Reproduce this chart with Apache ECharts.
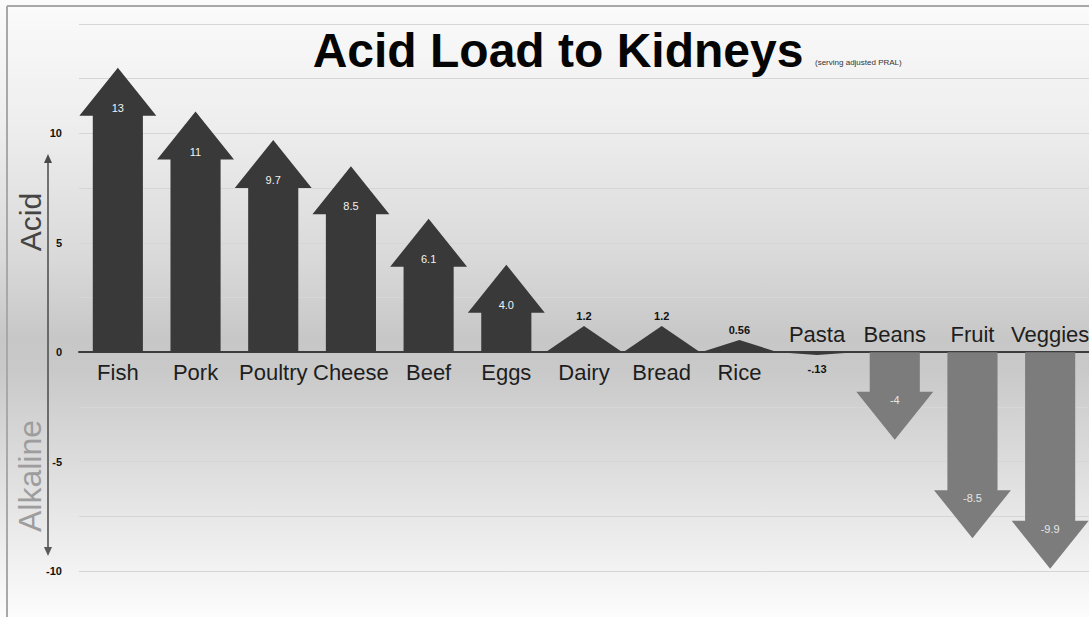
<!DOCTYPE html>
<html>
<head>
<meta charset="utf-8">
<script src="https://cdn.jsdelivr.net/npm/echarts@6/dist/echarts.min.js"></script>
<style>
html,body{margin:0;padding:0;background:#fff;}
#chart{width:1089px;height:617px;}
</style>
</head>
<body>
<div id="chart"></div>
<script>
var categories = ['Fish','Pork','Poultry','Cheese','Beef','Eggs','Dairy','Bread','Rice','Pasta','Beans','Fruit','Veggies'];
var values = [13, 11, 9.7, 8.5, 6.1, 4.0, 1.2, 1.2, 0.56, -0.13, -4, -8.5, -9.9];
var valueLabels = ['13','11','9.7','8.5','6.1','4.0','1.2','1.2','0.56','-.13','-4','-8.5','-9.9'];
var yTickLabels = [10, 5, 0, -5, -10];

var FONT = "'Liberation Sans', Arial, sans-serif";
var chart = echarts.init(document.getElementById('chart'), null, {renderer: 'svg'});

function renderArrow(params, api) {
  var idx = api.value(0), v = api.value(1);
  var base = api.coord([idx, 0]);
  var tip = api.coord([idx, v]);
  var band = api.size([1, 0])[0];
  var cx = base[0];
  var shaftW = band * 0.645, headW = band * 0.99, headL = 48;
  var dir = v >= 0 ? -1 : 1;
  var len = Math.abs(tip[1] - base[1]);
  var pts;
  if (len > headL) {
    var sh = tip[1] - dir * headL;
    pts = [[cx - shaftW / 2, base[1]], [cx - shaftW / 2, sh], [cx - headW / 2, sh], [cx, tip[1]],
           [cx + headW / 2, sh], [cx + shaftW / 2, sh], [cx + shaftW / 2, base[1]]];
  } else {
    pts = [[cx - headW / 2, base[1]], [cx, tip[1]], [cx + headW / 2, base[1]]];
  }
  var fill = v > -1 ? '#393939' : '#7c7c7c';
  var children = [{type: 'polygon', shape: {points: pts}, style: {fill: fill}}];
  // value label
  var lbl = valueLabels[params.dataIndex];
  var ly, lcol, lbold;
  if (v >= 0) {
    if (len > headL) { ly = tip[1] + 40; lcol = '#f2f2f2'; lbold = 'normal'; }
    else { ly = tip[1] - 10; lcol = '#111'; lbold = 'bold'; }
  } else {
    if (len > headL) { ly = tip[1] - 40; lcol = '#e6e6e6'; lbold = 'normal'; }
    else { ly = base[1] + 17; lcol = '#111'; lbold = 'bold'; }
  }
  children.push({type: 'text', style: {text: lbl, x: cx, y: ly, fill: lcol, font: lbold + ' 11px ' + FONT, align: 'center', verticalAlign: 'middle'}});
  // category label
  var cy = v >= 0 ? base[1] + 20 : base[1] - 18;
  children.push({type: 'text', style: {text: categories[params.dataIndex], x: cx, y: cy, fill: '#1e1e1e', font: '22px ' + FONT, align: 'center', verticalAlign: 'middle'}});
  return {type: 'group', children: children};
}

var option = {
  backgroundColor: {
    type: 'linear', x: 0, y: 0, x2: 0, y2: 1,
    colorStops: [
      {offset: 0, color: '#fbfbfb'},
      {offset: 0.2, color: '#eeeeee'},
      {offset: 0.42, color: '#d9d9d9'},
      {offset: 0.55, color: '#c7c7c7'},
      {offset: 0.6, color: '#c9c9c9'},
      {offset: 0.75, color: '#dcdcdc'},
      {offset: 0.88, color: '#ededed'},
      {offset: 1, color: '#fcfcfc'}
    ]
  },
  animation: false,
  grid: {left: 79, right: 0, top: 24, bottom: 46},
  xAxis: {
    type: 'category', data: categories,
    axisLine: {onZero: true, lineStyle: {color: '#3c3c3c', width: 2}},
    axisTick: {show: false}, axisLabel: {show: false}, splitLine: {show: false}
  },
  yAxis: {
    type: 'value', min: -10, max: 15, interval: 2.5,
    axisLine: {show: false}, axisTick: {show: false},
    axisLabel: {
      margin: 17, color: '#111', fontWeight: 'bold', fontSize: 11, fontFamily: FONT,
      formatter: function (v) { return yTickLabels.indexOf(v) >= 0 ? String(v) : ''; }
    },
    splitLine: {lineStyle: {color: '#d6d6d6', width: 1}}
  },
  series: [{
    type: 'custom', renderItem: renderArrow, clip: false,
    data: values.map(function (v, i) { return [i, v]; }),
    encode: {x: 0, y: 1}, z: 3
  }],
  graphic: [
    {type: 'line', shape: {x1: 7, y1: 6, x2: 1089, y2: 6}, style: {stroke: '#a8a8a8', lineWidth: 2}, z: 10},
    {type: 'line', shape: {x1: 7, y1: 6, x2: 7, y2: 617}, style: {stroke: '#a8a8a8', lineWidth: 2}, z: 10},
    {type: 'text', x: 558, y: 50, style: {text: 'Acid Load to Kidneys', font: 'bold 48px ' + FONT, fill: '#050505', align: 'center', verticalAlign: 'middle'}, z: 10},
    {type: 'text', x: 815, y: 62, style: {text: '(serving adjusted PRAL)', font: '8px ' + FONT, fill: '#333', align: 'left', verticalAlign: 'middle'}, z: 10},
    {type: 'text', x: 30, y: 222, rotation: Math.PI / 2, style: {text: 'Acid', font: '30px ' + FONT, fill: '#444', align: 'center', verticalAlign: 'middle'}, z: 10},
    {type: 'text', x: 30, y: 476, rotation: Math.PI / 2, style: {text: 'Alkaline', font: '32px ' + FONT, fill: '#9d9d9d', align: 'center', verticalAlign: 'middle'}, z: 10},
    {type: 'line', shape: {x1: 48, y1: 160, x2: 48, y2: 550}, style: {stroke: '#4a4a4a', lineWidth: 1.5}, z: 10},
    {type: 'polygon', shape: {points: [[44, 163], [48, 154], [52, 163]]}, style: {fill: '#4a4a4a'}, z: 10},
    {type: 'polygon', shape: {points: [[44, 547], [48, 556], [52, 547]]}, style: {fill: '#5a5a5a'}, z: 10}
  ]
};
chart.setOption(option);
</script>
</body>
</html>
